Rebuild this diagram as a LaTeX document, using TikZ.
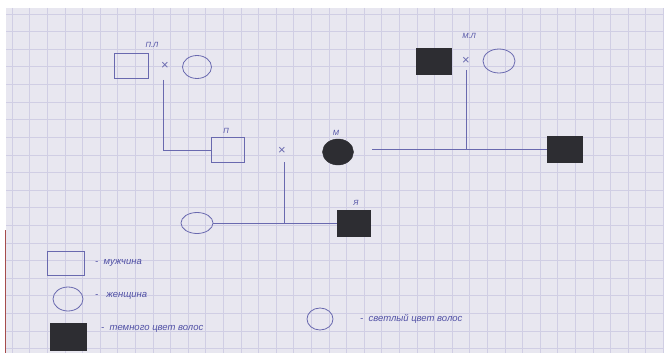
\documentclass[tikz,border=0pt]{standalone}
\usepackage{fontspec}
\setmainfont{Liberation Sans}
\usetikzlibrary{shapes.geometric}
\definecolor{paper}{RGB}{232,231,240}
\definecolor{gridc}{RGB}{208,206,228}
\definecolor{ink}{RGB}{105,105,175}
\definecolor{dark}{RGB}{45,45,50}
\definecolor{handink}{RGB}{80,80,165}
\tikzset{
  malebox/.style={draw=ink,line width=0.8pt,rectangle,minimum width=34pt,minimum height=25pt,inner sep=0pt},
  darkbox/.style={draw=dark,fill=dark,line width=0.8pt,rectangle,minimum width=35pt,minimum height=26pt,inner sep=0pt},
  femell/.style={draw=ink,line width=0.8pt,ellipse,minimum width=29pt,minimum height=23pt,inner sep=0pt},
  darkell/.style={draw=dark,fill=dark,ellipse,minimum width=31pt,minimum height=26pt,inner sep=0pt},
  conn/.style={draw=ink,line width=0.8pt},
  cross/.style={text=ink,font=\fontsize{13}{13}\selectfont,inner sep=0pt},
  hand/.style={text=handink,font=\itshape\fontsize{9.5}{10}\selectfont,inner sep=0pt,anchor=west},
  lab/.style={text=handink,font=\itshape\fontsize{7.5}{8}\selectfont,inner sep=0pt}
}
\begin{document}
\begin{tikzpicture}[x=1pt,y=-1pt]
\useasboundingbox (0,0) rectangle (664,353);
\fill[white] (0,0) rectangle (664,353);
\fill[paper] (6,8) rectangle (664,353);
\begin{scope}
\clip (6,8) rectangle (664,353);
\foreach \gx in {0,...,37} {\draw[gridc,line width=0.6pt] (12+\gx*17.6,8) -- (12+\gx*17.6,353);}
\foreach \gy in {0,...,20} {\draw[gridc,line width=0.6pt] (6,14+\gy*17.6) -- (664,14+\gy*17.6);}
\end{scope}
\draw[red!50!black!70,line width=0.8pt] (5,230) -- (5,353);

% grandparents (father's side)
\node[malebox] (plm) at (131,66) {};
\node[cross] (plx) at (165,66) {×};
\node[femell] (plf) at (197,67) {};
\node[lab] (pll) at (152,45) {П.Л};
% grandparents (mother's side)
\node[darkbox] (mlm) at (434,61) {};
\node[cross] (mlx) at (466,61) {×};
\node[femell,minimum width=32pt,minimum height=24pt] (mlf) at (499,61) {};
\node[lab] (mll) at (469,36) {М.Л};
% parents
\node[malebox,minimum width=33pt] (pm) at (228,150) {};
\node[lab] (pml) at (226,131) {П};
\node[cross] (px) at (282,151) {×};
\node[darkell] (mf) at (338,152) {};
\node[lab] (mfl) at (336,133) {М};
\node[darkbox] (sib) at (565,149) {};
% children
\node[femell,minimum width=32pt,minimum height=21pt] (dau) at (197,223) {};
\node[darkbox,minimum width=33pt] (ya) at (354,223) {};
\node[lab] (yal) at (356,203) {Я};

\coordinate (plxb) at (163,80);
\coordinate (mlxb) at (466,70);
\coordinate (mline) at (372,149);
\coordinate (pxb) at (284,162);

\draw[conn] (plxb) |- (pm.west);
\draw[conn] (mline) -- (sib.west);
\draw[conn] (mlxb) -- (mlxb |- mline);
\draw[conn] (dau.east) -- (ya.west);
\draw[conn] (pxb) -- (pxb |- dau.east);

% legend
\node[malebox,minimum width=37pt,minimum height=24pt] (lgm) at (66,263) {};
\node[hand] (lgmt) at (95,263) {-\ \ мужчина};
\node[femell,minimum width=30pt,minimum height=24pt] (lgf) at (68,299) {};
\node[hand] (lgft) at (95,296) {-\ \ \ женщина};
\node[darkbox,minimum width=36pt,minimum height=27pt] (lgd) at (68,337) {};
\node[hand] (lgdt) at (101,329) {-\ \ темного цвет волос};
\node[femell,minimum width=26pt,minimum height=22pt] (lgl) at (320,319) {};
\node[hand] (lglt) at (360,319) {-\ \ светлый цвет волос};
\end{tikzpicture}
\end{document}
